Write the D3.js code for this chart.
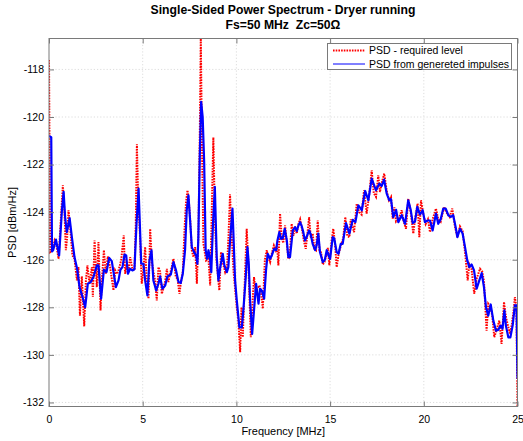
<!DOCTYPE html>
<html>
<head>
<meta charset="utf-8">
<script src="https://cdn.jsdelivr.net/npm/d3@7"></script>
<style>
  html, body { margin: 0; padding: 0; background: #fff; }
  svg { display: block; font-family: "Liberation Sans", Arial, Helvetica, sans-serif; }
  .title { white-space: pre; }
</style>
</head>
<body>
<svg id="chart" width="523" height="441"></svg>
<script>
// Required PSD level (dotted red)
const requiredFreq = [0.00,0.06,0.19,0.30,0.38,0.51,0.65,0.74,0.83,0.90,0.97,1.04,1.13,1.25,1.36,1.49,1.57,1.65,1.75,1.88,1.97,2.05,2.16,2.29,2.34,2.43,2.55,2.64,2.75,2.82,2.93,3.03,3.14,3.26,3.44,3.53,3.62,3.71,3.85,3.99,4.06,4.15,4.24,4.33,4.45,4.56,4.63,4.69,4.76,4.86,4.95,5.04,5.13,5.22,5.31,5.40,5.49,5.57,5.66,5.75,5.84,5.93,6.02,6.11,6.20,6.29,6.37,6.46,6.55,6.64,6.77,6.86,6.96,7.05,7.14,7.23,7.31,7.39,7.46,7.54,7.62,7.71,7.80,7.89,7.97,8.05,8.10,8.16,8.24,8.38,8.51,8.60,8.68,8.77,8.86,8.95,9.09,9.18,9.27,9.40,9.50,9.58,9.66,9.74,9.85,10.02,10.10,10.20,10.27,10.34,10.42,10.55,10.63,10.77,10.87,10.94,11.03,11.12,11.23,11.30,11.41,11.52,11.62,11.70,11.80,11.90,12.00,12.10,12.17,12.24,12.33,12.42,12.50,12.60,12.69,12.77,12.84,12.95,13.04,13.13,13.22,13.31,13.40,13.50,13.60,13.70,13.79,13.88,13.97,14.07,14.16,14.25,14.34,14.43,14.52,14.61,14.70,14.80,14.88,14.96,15.08,15.17,15.26,15.35,15.45,15.57,15.70,15.81,15.92,16.03,16.10,16.28,16.42,16.55,16.68,16.81,16.95,17.08,17.22,17.33,17.45,17.57,17.66,17.78,17.89,18.02,18.14,18.25,18.34,18.43,18.52,18.66,18.82,18.93,19.05,19.17,19.30,19.44,19.55,19.67,19.76,19.85,19.98,20.10,20.22,20.33,20.47,20.65,20.77,20.90,21.08,21.20,21.38,21.52,21.66,21.79,21.93,22.07,22.21,22.34,22.43,22.55,22.69,22.82,23.00,23.12,23.21,23.35,23.44,23.57,23.66,23.76,23.90,24.03,24.15,24.28,24.38,24.50,24.60,24.70,24.80,24.86,24.94,25.00];
const requiredPsd = [-117.6,-125.68,-125.6,-125.19,-125.33,-125.96,-124.06,-122.87,-124.06,-125.6,-125.05,-123.92,-124.63,-125.82,-125.96,-126.87,-126.31,-128.35,-126.7,-128.8,-126.87,-126.24,-127.01,-126.31,-127.57,-125.19,-127.15,-125.26,-128.13,-126.87,-125.6,-126.59,-125.86,-126.31,-127.29,-126.45,-126.6,-126.45,-126.03,-124.98,-126.59,-126.2,-126.45,-125.89,-126.38,-126.45,-124.5,-121.15,-123.5,-125.05,-127.01,-126.4,-125.47,-126.9,-127.64,-124.7,-126.1,-126.5,-126.87,-127.71,-126.31,-126.5,-127.43,-127.2,-126.9,-126.38,-126.94,-126.6,-126.31,-125.96,-126.73,-126.8,-127.43,-126.9,-126.5,-124.77,-123.6,-123.08,-123.5,-124.4,-125.6,-125.89,-125.47,-127.01,-125.05,-120.5,-116.7,-121.0,-125.33,-126.03,-125.96,-127.08,-124.2,-120.86,-124.5,-126.17,-127.29,-125.68,-126.1,-126.52,-126.3,-125.0,-123.25,-124.9,-126.5,-128.0,-128.5,-129.89,-128.0,-129.26,-127.5,-124.7,-126.0,-129.26,-127.7,-126.73,-127.3,-127.22,-127.08,-127.3,-128.06,-126.0,-125.6,-125.9,-126.1,-125.7,-125.4,-125.6,-125.4,-126.24,-124.06,-125.1,-125.3,-124.56,-125.3,-125.96,-125.9,-124.49,-125.0,-124.6,-124.9,-124.5,-124.3,-124.7,-125.2,-125.54,-124.9,-124.21,-125.1,-124.9,-125.54,-125.6,-124.35,-125.6,-125.7,-126.2,-126.1,-125.8,-125.5,-126.24,-125.2,-124.7,-125.3,-126.31,-125.8,-125.4,-125.1,-124.21,-125.0,-125.05,-124.3,-124.84,-123.64,-124.0,-124.1,-123.08,-124.06,-123.3,-122.24,-123.2,-123.36,-122.45,-123.15,-122.7,-122.38,-123.1,-123.5,-123.36,-124.27,-123.8,-124.4,-124.3,-123.92,-124.4,-124.7,-123.43,-124.0,-124.9,-124.2,-123.64,-125.05,-123.5,-124.1,-124.5,-124.3,-124.84,-124.3,-123.85,-124.3,-124.4,-123.78,-124.0,-124.2,-123.85,-124.6,-125.05,-124.6,-124.8,-125.75,-126.87,-126.2,-126.4,-127.43,-126.8,-126.38,-126.5,-126.9,-128.98,-127.85,-128.0,-128.4,-129.26,-128.9,-128.56,-129.54,-127.78,-128.4,-128.8,-129.1,-128.7,-128.1,-127.57,-128.0,-132.17];

// PSD obtained from the generated impulses (solid blue)
const generatedFreq = [0.00,0.12,0.16,0.22,0.37,0.54,0.69,0.78,0.86,0.95,1.10,1.22,1.36,1.50,1.63,1.79,1.93,2.07,2.23,2.37,2.55,2.64,2.78,2.93,3.07,3.21,3.35,3.57,3.71,3.81,3.92,4.03,4.12,4.21,4.33,4.45,4.56,4.67,4.78,4.86,4.92,5.04,5.13,5.25,5.36,5.47,5.57,5.72,5.84,5.93,6.05,6.20,6.32,6.50,6.64,6.78,6.91,7.03,7.14,7.26,7.35,7.44,7.53,7.62,7.74,7.85,7.92,7.97,8.05,8.12,8.20,8.28,8.36,8.44,8.51,8.60,8.66,8.75,8.85,8.95,9.04,9.12,9.27,9.36,9.49,9.57,9.68,9.79,9.84,9.93,10.02,10.16,10.29,10.37,10.50,10.59,10.66,10.73,10.84,10.94,11.05,11.18,11.26,11.36,11.48,11.58,11.67,11.80,11.90,12.01,12.12,12.19,12.29,12.38,12.47,12.58,12.69,12.77,12.86,13.01,13.13,13.22,13.31,13.40,13.49,13.57,13.66,13.77,13.88,13.97,14.07,14.20,14.28,14.37,14.46,14.61,14.72,14.82,14.91,15.00,15.14,15.22,15.35,15.45,15.57,15.67,15.85,16.03,16.21,16.35,16.51,16.69,16.87,17.04,17.22,17.45,17.63,17.75,17.88,18.02,18.16,18.25,18.37,18.52,18.64,18.82,19.00,19.17,19.30,19.41,19.53,19.65,19.80,19.94,20.06,20.20,20.33,20.47,20.65,20.77,20.90,21.04,21.17,21.31,21.44,21.57,21.70,21.79,21.93,22.07,22.20,22.32,22.43,22.55,22.68,22.82,22.95,23.09,23.21,23.32,23.44,23.57,23.71,23.85,23.97,24.10,24.20,24.30,24.38,24.51,24.62,24.74,24.86,24.95,25.00];
const generatedPsd = [-120.8,-120.85,-125.65,-125.6,-125.15,-125.82,-123.92,-123.15,-124.21,-124.84,-124.25,-125.05,-125.89,-126.38,-127.15,-127.57,-128.0,-127.01,-126.94,-126.73,-126.24,-126.24,-127.64,-126.42,-126.52,-125.92,-126.06,-127.15,-126.87,-126.42,-126.31,-125.78,-125.82,-126.59,-126.38,-126.45,-126.4,-124.5,-123.01,-124.77,-126.17,-126.17,-126.87,-127.5,-126.03,-125.6,-126.87,-127.29,-127.01,-126.7,-127.22,-127.08,-126.7,-126.62,-126.1,-126.45,-126.94,-126.98,-126.59,-125.6,-123.92,-123.29,-124.35,-125.47,-125.68,-125.82,-126.17,-125.05,-121.5,-119.36,-120.0,-121.9,-125.6,-125.96,-125.6,-126.0,-126.52,-124.5,-122.94,-125.89,-126.87,-126.4,-125.75,-126.24,-126.52,-126.31,-125.0,-123.85,-124.9,-126.87,-127.71,-128.84,-128.84,-128.13,-126.73,-125.47,-126.17,-127.71,-129.12,-128.13,-127.01,-127.85,-127.22,-127.3,-127.64,-126.45,-125.75,-125.96,-125.8,-125.54,-125.6,-125.19,-124.84,-125.12,-125.1,-124.7,-125.19,-125.89,-125.89,-124.77,-124.63,-124.8,-124.56,-124.42,-124.6,-124.84,-125.19,-125.0,-124.77,-124.95,-125.33,-125.6,-125.4,-124.9,-125.68,-126.1,-126.0,-125.6,-125.8,-125.96,-125.05,-125.1,-125.68,-125.75,-125.33,-125.33,-124.46,-124.9,-124.32,-124.42,-123.71,-123.92,-123.11,-123.5,-122.59,-123.08,-122.8,-122.9,-122.63,-123.22,-123.5,-123.45,-124.21,-123.9,-124.42,-124.13,-124.49,-123.5,-123.9,-124.46,-124.4,-123.78,-124.1,-123.92,-124.42,-124.35,-124.35,-124.77,-124.06,-124.49,-124.3,-123.85,-123.85,-124.13,-124.2,-124.13,-124.63,-125.05,-124.7,-124.9,-125.47,-126.03,-126.31,-126.2,-126.45,-127.22,-126.9,-126.56,-127.15,-128.0,-128.35,-127.88,-128.56,-128.98,-128.95,-128.77,-128.9,-128.13,-128.77,-129.26,-129.26,-128.77,-127.92,-127.92,-131.0];

const xTicks = [0, 5, 10, 15, 20, 25];
const yTicks = [-132, -130, -128, -126, -124, -122, -120, -118];
const titleLines = ["Single-Sided Power Spectrum - Dryer running", "Fs=50 MHz  Zc=50\u03A9"];
const legendLabels = ["PSD - required level", "PSD from genereted impulses"];

const svg = d3.select("#chart");
const plot = { left: 49, right: 517.5, top: 38.5, bottom: 406.5 };

const x = d3.scaleLinear().domain([0, 25]).range([plot.left, plot.right]);
const y = d3.scaleLinear().domain([-132.17, -116.7]).range([plot.bottom, plot.top]);

svg.append("rect").attr("width", 523).attr("height", 441).attr("fill", "#fff");

svg.append("defs").append("clipPath").attr("id", "plotClip")
  .append("rect")
  .attr("x", plot.left).attr("y", plot.top)
  .attr("width", plot.right - plot.left).attr("height", plot.bottom - plot.top);

// grid
const grid = svg.append("g").attr("stroke", "#d4d4d4").attr("stroke-width", 0.8).attr("stroke-dasharray", "1.2,2");
grid.selectAll("line.gx").data(xTicks.slice(1, -1)).join("line")
  .attr("x1", d => x(d)).attr("x2", d => x(d)).attr("y1", plot.top).attr("y2", plot.bottom);
grid.selectAll("line.gy").data(yTicks).join("line")
  .attr("x1", plot.left).attr("x2", plot.right).attr("y1", d => y(d)).attr("y2", d => y(d));

// data lines
const lineGen = d3.line().x(d => x(d[0])).y(d => y(d[1]));
const requiredData = requiredFreq.map((f, i) => [f, requiredPsd[i]]);
const generatedData = generatedFreq.map((f, i) => [f, generatedPsd[i]]);

const lines = svg.append("g").attr("clip-path", "url(#plotClip)");
lines.append("path").datum(requiredData)
  .attr("d", lineGen).attr("fill", "none")
  .attr("stroke", "#ff0000").attr("stroke-width", 2)
  .attr("stroke-dasharray", "1.6,1.1");
lines.append("path").datum(generatedData)
  .attr("d", lineGen).attr("fill", "none")
  .attr("stroke", "#0000ff").attr("stroke-width", 2.2)
  .attr("stroke-linejoin", "round");

// axes (ticks inside the box, on all four sides)
const axisColor = "#7a7a7a";
const tickLen = 5;
const xB = svg.append("g").attr("transform", `translate(0,${plot.bottom})`)
  .call(d3.axisBottom(x).tickValues(xTicks).tickSize(-tickLen).tickPadding(9).tickFormat(d3.format("d")));
const xT = svg.append("g").attr("transform", `translate(0,${plot.top})`)
  .call(d3.axisTop(x).tickValues(xTicks).tickSize(-tickLen).tickFormat(""));
const yL = svg.append("g").attr("transform", `translate(${plot.left},0)`)
  .call(d3.axisLeft(y).tickValues(yTicks).tickSize(-tickLen).tickPadding(5).tickFormat(d => d));
const yR = svg.append("g").attr("transform", `translate(${plot.right},0)`)
  .call(d3.axisRight(y).tickValues(yTicks).tickSize(-tickLen).tickFormat(""));
[xB, xT, yL, yR].forEach(g => {
  g.select(".domain").remove();
  g.selectAll(".tick line").attr("stroke", axisColor);
  g.selectAll("text").attr("fill", "#000").style("font-size", "10.5px")
    .style("font-family", "'Liberation Sans', Arial, sans-serif");
});
svg.append("rect")
  .attr("x", plot.left).attr("y", plot.top)
  .attr("width", plot.right - plot.left).attr("height", plot.bottom - plot.top)
  .attr("fill", "none").attr("stroke", axisColor).attr("stroke-width", 1);

// axis labels
svg.append("text").attr("x", (plot.left + plot.right) / 2).attr("y", 435)
  .attr("text-anchor", "middle").style("font-size", "11px").text("Frequency [MHz]");
svg.append("text").attr("transform", `translate(16,${(plot.top + plot.bottom) / 2}) rotate(-90)`)
  .attr("text-anchor", "middle").style("font-size", "11px").text("PSD [dBm/Hz]");

// title
svg.selectAll("text.title").data(titleLines).join("text")
  .attr("class", "title")
  .attr("x", 283).attr("y", (d, i) => 14 + i * 15)
  .attr("text-anchor", "middle").style("font-size", "12.2px").style("font-weight", "bold")
  .text(d => d);

// legend
const legend = svg.append("g");
legend.append("rect").attr("x", 327.5).attr("y", 43.5).attr("width", 184).attr("height", 26)
  .attr("fill", "#fff").attr("stroke", axisColor).attr("stroke-width", 1);
const legendStyles = [
  { color: "#ff0000", dash: "1.6,1.1", width: 2 },
  { color: "#0000ff", dash: null, width: 1 }
];
legendLabels.forEach((label, i) => {
  const ly = 50.5 + i * 13.5;
  legend.append("line").attr("x1", 333).attr("x2", 365).attr("y1", ly).attr("y2", ly)
    .attr("stroke", legendStyles[i].color).attr("stroke-width", legendStyles[i].width)
    .attr("stroke-dasharray", legendStyles[i].dash);
  legend.append("text").attr("x", 369).attr("y", ly + 3.8)
    .style("font-size", "10.5px").text(label);
});
</script>
</body>
</html>
